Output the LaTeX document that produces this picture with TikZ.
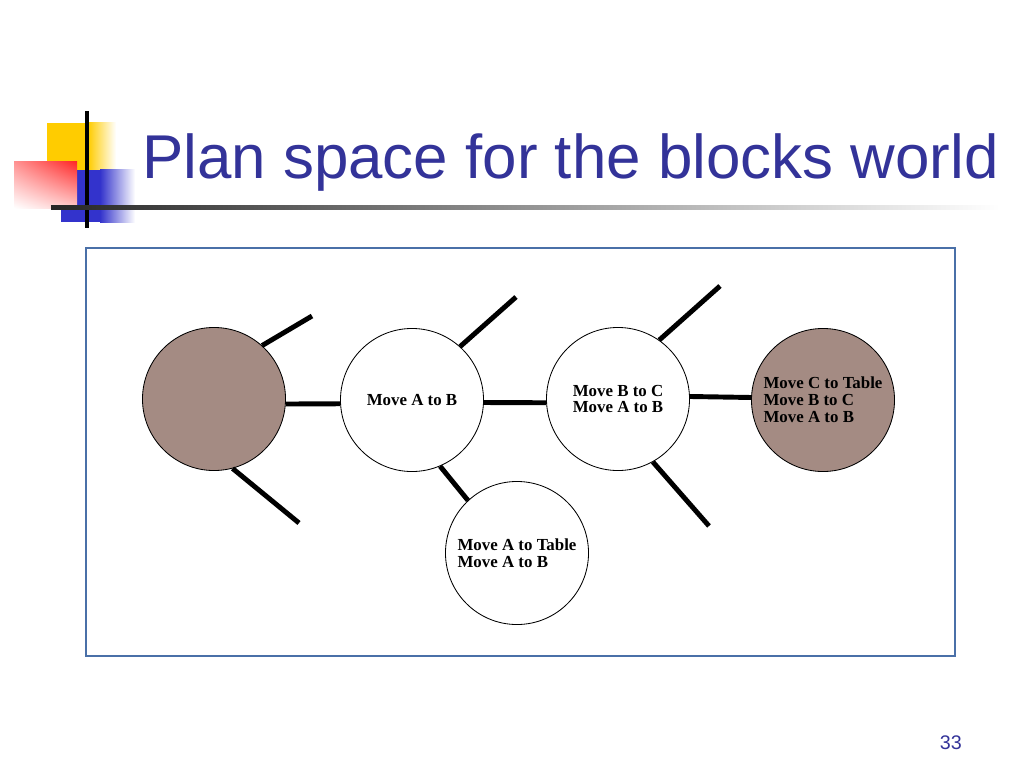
\documentclass[tikz,border=0pt]{standalone}
\usepackage{fontspec}
\usetikzlibrary{shadings}
\setmainfont{Liberation Serif}
\newfontfamily\titlefont{Liberation Sans}
\definecolor{titleblue}{RGB}{51,51,153}
\definecolor{frameblue}{RGB}{74,112,168}
\definecolor{statebrown}{RGB}{164,139,131}
\definecolor{logoyellow}{RGB}{255,204,0}
\definecolor{logored}{RGB}{255,40,40}
\definecolor{logoblue}{RGB}{51,51,204}
\begin{document}
\begin{tikzpicture}[x=0.025cm, y=-0.025cm,
		state/.style={circle, draw=black, line width=0.6pt, fill=white, minimum size=3.575cm, inner sep=0pt, align=left, font=\bfseries\fontsize{12}{12}\selectfont},
		goal/.style={state, fill=statebrown},
		branch/.style={line width=3.5pt}]
	\useasboundingbox[fill=white] (0,0) rectangle (1024,768);
	
	% logo
	\fill[logoyellow] (47,123) rectangle (88,185);
	\shade[left color=logoyellow, right color=white] (88,123) rectangle (116,185);
	\fill[logoblue] (61,170) rectangle (100,222);
	\shade[left color=logoblue, right color=white] (100,170) rectangle (135,222);
	\shade[upper right=logored, upper left=logored!50, lower left=white, lower right=logored!25] (14,162) rectangle (77,208);
	\draw[line width=2.2pt] (87,111) -- (87,228);
	\shade[left color=black!85, right color=white] (51,205) rectangle (1000,209);
	
	\node[anchor=base west, text=titleblue, font=\titlefont\fontsize{44}{44}\selectfont, inner sep=0pt] (title) at (142,178) {Plan space for the blocks world};
	\node[anchor=base east, text=titleblue, font=\titlefont\fontsize{14}{14}\selectfont, inner sep=0pt] (page) at (962,749) {33};
	
	\draw[frameblue, line width=1.4pt] (86,248) rectangle (955,656);
	
	% plan states
	\node[goal] (start) at (214,399) {};
	\node[state] (ab) at (412,400) {Move A to B};
	\node[state] (bc) at (618,399) {Move B to C\\Move A to B};
	\node[goal] (plan) at (823,400) {Move C to Table\\Move B to C\\Move A to B};
	\node[state] (at) at (517,553) {Move A to Table\\Move A to B};
	
	\coordinate (s1) at (312,316);
	\coordinate (s2) at (299,523);
	\coordinate (s3) at (516,297);
	\coordinate (s4) at (720,286);
	\coordinate (s5) at (709,526);
	
	\draw[branch] (start.-4) -- (ab.183);
	\draw[branch] (ab.-2) -- (bc.183);
	\draw[branch] (bc.2) -- (plan.178);
	\draw[branch] (ab.-67) -- (at.133);
	\draw[branch] (start.48) -- (s1);
	\draw[branch] (start.-75) -- (s2);
	\draw[branch] (ab.48) -- (s3);
	\draw[branch] (bc.55) -- (s4);
	\draw[branch] (bc.-61) -- (s5);
\end{tikzpicture}
\end{document}
